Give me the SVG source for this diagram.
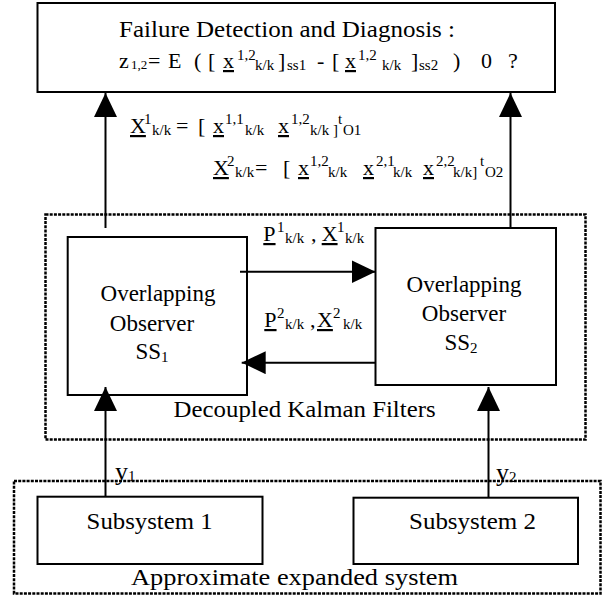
<svg xmlns="http://www.w3.org/2000/svg" width="605" height="600" viewBox="0 0 605 600">
  <defs>
    <marker id="head" viewBox="0 0 24 23" refX="24" refY="11.5" markerWidth="24" markerHeight="23" markerUnits="userSpaceOnUse" orient="auto">
      <path d="M0,0 L24,11.5 L0,23 Z" fill="#000"/>
    </marker>
  </defs>

  <!-- grouping frames (dotted) -->
  <g id="frames" fill="none" stroke="#000" stroke-width="2.5" stroke-dasharray="3 1.2">
    <rect id="kalman-frame" x="45.5" y="214.5" width="540" height="225"/>
    <rect id="system-frame" x="14" y="481" width="586.5" height="112.5"/>
  </g>
  <g id="frame-labels">
    <text font-family="Liberation Serif" font-size="23" x="173.6" y="417" textLength="262" lengthAdjust="spacingAndGlyphs">Decoupled Kalman Filters</text>
    <text font-family="Liberation Serif" font-size="23" x="131" y="585" textLength="327" lengthAdjust="spacingAndGlyphs">Approximate expanded system</text>
  </g>

  <!-- failure detection block -->
  <g id="fdd">
    <rect x="37.5" y="3" width="517.5" height="89" fill="#fff" stroke="#000" stroke-width="2"/>
    <text font-family="Liberation Serif" font-size="23" x="119" y="37" textLength="336" lengthAdjust="spacingAndGlyphs">Failure Detection and Diagnosis :</text>
    <text font-family="Liberation Serif" font-size="22" y="68">
      <tspan x="119">z</tspan><tspan x="131" y="69" font-size="13">1,2</tspan><tspan x="148" y="68">=</tspan>
      <tspan x="168">E</tspan><tspan x="194">(</tspan><tspan x="208">[</tspan>
      <tspan text-decoration="underline" x="223">x</tspan><tspan font-size="15" x="237" y="60">1,2</tspan><tspan font-size="15" x="255" y="70">k/k</tspan>
      <tspan x="278" y="68">]</tspan><tspan font-size="15" x="287" y="70">ss1</tspan>
      <tspan x="317" y="68">-</tspan><tspan x="332">[</tspan>
      <tspan text-decoration="underline" x="345">x</tspan><tspan font-size="15" x="358" y="60">1,2</tspan><tspan font-size="15" x="382" y="70">k/k</tspan>
      <tspan x="411" y="68">]</tspan><tspan font-size="15" x="419" y="70">ss2</tspan>
      <tspan x="453" y="68">)</tspan><tspan x="481">0</tspan><tspan x="508">?</tspan>
    </text>
  </g>

  <!-- state vectors sent upward -->
  <g id="state-labels">
    <text font-family="Liberation Serif" font-size="22" y="133">
      <tspan text-decoration="underline" x="130">X</tspan><tspan font-size="15" x="144" y="124">1</tspan><tspan font-size="15" x="152" y="135">k/k</tspan>
      <tspan x="176" y="133">=</tspan><tspan x="198">[</tspan>
      <tspan text-decoration="underline" x="213">x</tspan><tspan font-size="15" x="225" y="124">1,1</tspan><tspan font-size="15" x="245" y="135">k/k</tspan>
      <tspan text-decoration="underline" x="278" y="133">x</tspan><tspan font-size="15" x="291" y="124">1,2</tspan><tspan font-size="15" x="310" y="135">k/k ]</tspan>
      <tspan font-size="15" x="338" y="124">t</tspan><tspan font-size="15" x="343" y="135">O1</tspan>
    </text>
    <text font-family="Liberation Serif" font-size="22" y="175">
      <tspan text-decoration="underline" x="213">X</tspan><tspan font-size="15" x="227" y="166">2</tspan><tspan font-size="15" x="235" y="177">k/k</tspan>
      <tspan x="255" y="175">=</tspan><tspan x="283">[</tspan>
      <tspan text-decoration="underline" x="298">x</tspan><tspan font-size="15" x="310" y="166">1,2</tspan><tspan font-size="15" x="328" y="177">k/k</tspan>
      <tspan text-decoration="underline" x="363" y="175">x</tspan><tspan font-size="15" x="376" y="166">2,1</tspan><tspan font-size="15" x="393" y="177">k/k</tspan>
      <tspan text-decoration="underline" x="423" y="175">x</tspan><tspan font-size="15" x="436" y="166">2,2</tspan><tspan font-size="15" x="453" y="177">k/k]</tspan>
      <tspan font-size="15" x="480" y="166">t</tspan><tspan font-size="15" x="485" y="177">O2</tspan>
    </text>
  </g>

  <!-- observer SS1 -->
  <g id="observer-1">
    <rect x="67.7" y="237" width="179.3" height="158" fill="#fff" stroke="#000" stroke-width="2"/>
    <text font-family="Liberation Serif" font-size="23" text-anchor="middle" x="158" y="301">Overlapping</text>
    <text font-family="Liberation Serif" font-size="23" text-anchor="middle" x="152" y="331">Observer</text>
    <text font-family="Liberation Serif" font-size="23" x="135.5" y="359">SS<tspan font-size="15" y="362">1</tspan></text>
  </g>

  <!-- observer SS2 -->
  <g id="observer-2">
    <rect x="375.5" y="228" width="180.5" height="157" fill="#fff" stroke="#000" stroke-width="2"/>
    <text font-family="Liberation Serif" font-size="23" text-anchor="middle" x="464" y="292">Overlapping</text>
    <text font-family="Liberation Serif" font-size="23" text-anchor="middle" x="464" y="321">Observer</text>
    <text font-family="Liberation Serif" font-size="23" x="444.5" y="350">SS<tspan font-size="15" y="353">2</tspan></text>
  </g>

  <!-- exchanged covariance and state -->
  <g id="exchange-labels">
    <text font-family="Liberation Serif" font-size="22" y="241">
      <tspan text-decoration="underline" x="263.3">P</tspan><tspan font-size="15" x="277" y="232">1</tspan><tspan font-size="15" x="285" y="243">k/k</tspan>
      <tspan x="311" y="241">,</tspan><tspan text-decoration="underline" x="321.7">X</tspan><tspan font-size="15" x="337" y="232">1</tspan><tspan font-size="15" x="345" y="243">k/k</tspan>
    </text>
    <text font-family="Liberation Serif" font-size="22" y="327">
      <tspan text-decoration="underline" x="264.3">P</tspan><tspan font-size="15" x="277" y="318">2</tspan><tspan font-size="15" x="285" y="329">k/k</tspan>
      <tspan x="310" y="327">,</tspan><tspan text-decoration="underline" x="317">X</tspan><tspan font-size="15" x="333" y="318">2</tspan><tspan font-size="15" x="343" y="329">k/k</tspan>
    </text>
  </g>

  <!-- subsystems -->
  <g id="subsystem-1">
    <rect x="37.5" y="496.7" width="225" height="67.3" fill="#fff" stroke="#000" stroke-width="2"/>
    <text font-family="Liberation Serif" font-size="23" x="86.6" y="529" textLength="126" lengthAdjust="spacingAndGlyphs">Subsystem 1</text>
  </g>
  <g id="subsystem-2">
    <rect x="353.5" y="497.7" width="224.5" height="66.3" fill="#fff" stroke="#000" stroke-width="2"/>
    <text font-family="Liberation Serif" font-size="23" x="409" y="529" textLength="127" lengthAdjust="spacingAndGlyphs">Subsystem 2</text>
  </g>

  <!-- measurement labels -->
  <g id="measurements">
    <text font-family="Liberation Serif" font-size="26" x="115" y="480">y<tspan font-size="15" y="481">1</tspan></text>
    <text font-family="Liberation Serif" font-size="26" x="496" y="481">y<tspan font-size="15" y="482">2</tspan></text>
  </g>

  <!-- connectors -->
  <g id="connectors" fill="none" stroke="#000" stroke-width="2" marker-end="url(#head)">
    <line x1="105.5" y1="228" x2="105.5" y2="93"/>
    <line x1="510.5" y1="228" x2="510.5" y2="93"/>
    <line x1="240" y1="271.7" x2="375.5" y2="271.7"/>
    <line x1="375.5" y1="362.7" x2="241.7" y2="362.7"/>
    <line x1="105.5" y1="496.7" x2="105.5" y2="387"/>
    <line x1="488.5" y1="497.7" x2="488.5" y2="387"/>
  </g>
</svg>
